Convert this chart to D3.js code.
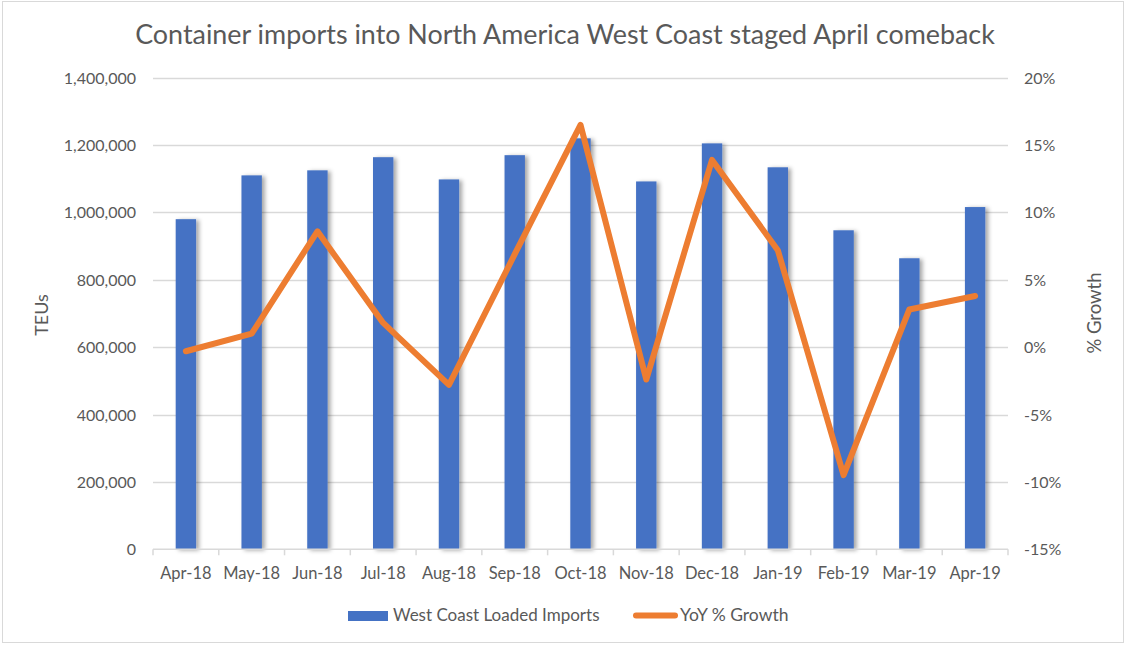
<!DOCTYPE html>
<html>
  <head>
    <meta charset="utf-8" />
    <script src="https://cdn.jsdelivr.net/npm/d3@7"></script>
    <style>
      body { margin: 0; background: #fff; }
      svg text { font-family: Lato, "Open Sans", sans-serif; fill: #595959; }
    </style>
  </head>
  <body>
    <div id="chart"></div>
    <script type="text/javascript">
var months = ["Apr-18","May-18","Jun-18","Jul-18","Aug-18","Sep-18","Oct-18","Nov-18","Dec-18","Jan-19","Feb-19","Mar-19","Apr-19"];
var imports = [980000,1110000,1125000,1164000,1098000,1170000,1220000,1092000,1205000,1134000,947000,864000,1016000];
var growth = [-0.3,1.0,8.6,1.8,-2.8,6.9,16.5,-2.4,13.9,7.2,-9.5,2.8,3.8];
var leftTicks = [0,200000,400000,600000,800000,1000000,1200000,1400000];
var rightTicks = [-15,-10,-5,0,5,10,15,20];

var width = 1127, height = 645;
var plot = {left: 153, right: 1008, top: 77.7, bottom: 549.3};

var svg = d3.select("#chart").append("svg")
  .attr("width", width)
  .attr("height", height);

// chart border
svg.append("rect")
  .attr("x", 2.5).attr("y", 1.5)
  .attr("width", width - 6).attr("height", height - 4)
  .attr("fill", "none")
  .attr("stroke", "#d9d9d9");

var defs = svg.append("defs");
var f = defs.append("filter").attr("id", "shadow")
  .attr("x", "-20%").attr("y", "-5%").attr("width", "160%").attr("height", "110%");
f.append("feDropShadow")
  .attr("dx", 3).attr("dy", 1).attr("stdDeviation", 2.2)
  .attr("flood-color", "#000").attr("flood-opacity", 0.35);

var x = d3.scaleBand().domain(months).range([plot.left, plot.right]).paddingInner(0.69).paddingOuter(0.345);
var xc = d3.scaleBand().domain(months).range([plot.left, plot.right]);
var yL = d3.scaleLinear().domain([0, 1400000]).range([plot.bottom, plot.top]);
var yR = d3.scaleLinear().domain([-15, 20]).range([plot.bottom, plot.top]);

// gridlines
svg.append("g").selectAll("line")
  .data(leftTicks.slice(1))
  .enter().append("line")
    .attr("x1", plot.left).attr("x2", plot.right)
    .attr("y1", function(d){ return Math.round(yL(d)) + 0.5; })
    .attr("y2", function(d){ return Math.round(yL(d)) + 0.5; })
    .attr("stroke", "#d9d9d9").attr("stroke-width", 1.3);

// bars
svg.append("g").selectAll("rect")
  .data(imports)
  .enter().append("rect")
    .attr("x", function(d, i){ return x(months[i]); })
    .attr("width", x.bandwidth())
    .attr("y", function(d){ return yL(d); })
    .attr("height", function(d){ return plot.bottom - yL(d); })
    .attr("fill", "#4472c4")
    .attr("filter", "url(#shadow)");

// x axis line + ticks
var xAxis = svg.append("g");
xAxis.append("line")
  .attr("x1", plot.left).attr("x2", plot.right)
  .attr("y1", plot.bottom).attr("y2", plot.bottom)
  .attr("stroke", "#d9d9d9").attr("stroke-width", 1.5);
xAxis.selectAll(".tk")
  .data(months.concat(["end"]))
  .enter().append("line")
    .attr("class", "tk")
    .attr("x1", function(d, i){ return plot.left + i * xc.step(); })
    .attr("x2", function(d, i){ return plot.left + i * xc.step(); })
    .attr("y1", plot.bottom).attr("y2", plot.bottom + 6)
    .attr("stroke", "#d9d9d9").attr("stroke-width", 1.5);
xAxis.selectAll("text")
  .data(months)
  .enter().append("text")
    .attr("x", function(d){ return xc(d) + xc.bandwidth() / 2; })
    .attr("y", 579)
    .attr("text-anchor", "middle")
    .style("font-size", "16.5px")
    .text(function(d){ return d; });

// left axis labels
svg.append("g").selectAll("text")
  .data(leftTicks)
  .enter().append("text")
    .attr("x", 136)
    .attr("y", function(d){ return yL(d) + 6; })
    .attr("text-anchor", "end")
    .style("font-size", "16px")
    .text(function(d){ return d3.format(",")(d); });

// right axis labels
svg.append("g").selectAll("text")
  .data(rightTicks)
  .enter().append("text")
    .attr("x", 1024)
    .attr("y", function(d){ return yR(d) + 6; })
    .attr("text-anchor", "start")
    .style("font-size", "16px")
    .text(function(d){ return d + "%"; });

// axis titles
svg.append("text")
  .attr("transform", "translate(48,315) rotate(-90)")
  .attr("text-anchor", "middle")
  .style("font-size", "18px")
  .text("TEUs");
svg.append("text")
  .attr("transform", "translate(1101,313) rotate(-90)")
  .attr("text-anchor", "middle")
  .style("font-size", "18.5px")
  .text("% Growth");

// growth line
var line = d3.line()
  .x(function(d, i){ return xc(months[i]) + xc.bandwidth() / 2; })
  .y(function(d){ return yR(d); });
svg.append("path")
  .datum(growth)
  .attr("d", line)
  .attr("fill", "none")
  .attr("stroke", "#ed7d31")
  .attr("stroke-width", 6)
  .attr("stroke-linejoin", "round")
  .attr("stroke-linecap", "round");

// title, fit to reference width
var title = svg.append("text")
  .attr("x", 565).attr("y", 44)
  .attr("text-anchor", "middle")
  .style("font-size", "26px")
  .text("Container imports into North America West Coast staged April comeback");
var tw = title.node().getComputedTextLength();
title.style("font-size", (26 * 860 / tw) + "px");

// legend
var lg = svg.append("g");
lg.append("rect")
  .attr("x", 348).attr("y", 611).attr("width", 40).attr("height", 10)
  .attr("fill", "#4472c4");
lg.append("text")
  .attr("x", 393).attr("y", 621)
  .style("font-size", "17px")
  .text("West Coast Loaded Imports");
lg.append("line")
  .attr("x1", 636).attr("x2", 675).attr("y1", 615.5).attr("y2", 615.5)
  .attr("stroke", "#ed7d31").attr("stroke-width", 6).attr("stroke-linecap", "round");
lg.append("text")
  .attr("x", 680).attr("y", 621)
  .style("font-size", "17.5px")
  .text("YoY % Growth");
    </script>
  </body>
</html>
